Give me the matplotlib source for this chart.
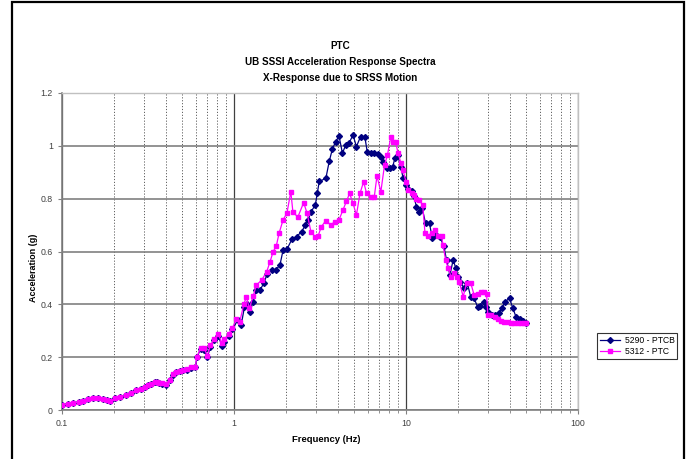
import matplotlib
matplotlib.use("Agg")
import matplotlib.pyplot as plt
from matplotlib.patches import Rectangle
from matplotlib.ticker import FixedLocator, NullFormatter

plt.rcParams['font.family'] = ['Liberation Sans', 'DejaVu Sans']

# Datos
freq_ptc = [0.100, 0.108, 0.116, 0.125, 0.133, 0.142, 0.151, 0.162, 0.173, 0.182,
            0.190, 0.203, 0.218, 0.237, 0.253, 0.271, 0.287, 0.303, 0.318, 0.331,
            0.345, 0.355, 0.367, 0.379, 0.401, 0.424, 0.443, 0.463, 0.484, 0.507,
            0.530, 0.566, 0.594, 0.610, 0.640, 0.670, 0.700, 0.730, 0.770, 0.810,
            0.850, 0.880, 0.930, 0.980, 1.03, 1.08, 1.14, 1.18, 1.23, 1.29,
            1.35, 1.45, 1.55, 1.62, 1.69, 1.76, 1.83, 1.93, 2.03, 2.14,
            2.20, 2.35, 2.54, 2.66, 2.80, 2.96, 3.08, 3.22, 3.42, 3.66,
            3.85, 4.08, 4.30, 4.50, 4.70, 4.92, 5.15, 5.40, 5.67, 5.90,
            6.25, 6.54, 6.78, 7.14, 7.50, 7.80, 8.15, 8.42, 8.70, 9.00,
            9.34, 9.60, 10.0, 10.3, 10.8, 11.2, 11.5, 11.9, 12.5, 12.9,
            13.4, 14.1, 14.7, 15.4, 16.1, 16.4, 17.0, 17.6, 18.3, 19.0,
            19.8, 20.4, 21.5, 22.5, 23.8, 24.9, 26.1, 27.3, 28.4, 29.4,
            29.9, 31.3, 32.7, 34.1, 35.7, 37.3, 39.0, 40.8, 42.6, 44.5,
            46.5, 48.5, 50.0]
acc_ptc = [0.019, 0.022, 0.025, 0.030, 0.035, 0.040, 0.044, 0.044, 0.042, 0.038,
           0.035, 0.044, 0.050, 0.057, 0.065, 0.076, 0.081, 0.086, 0.093, 0.099,
           0.107, 0.107, 0.104, 0.101, 0.099, 0.114, 0.136, 0.143, 0.148, 0.151,
           0.154, 0.162, 0.162, 0.202, 0.236, 0.234, 0.205, 0.246, 0.270, 0.288,
           0.253, 0.268, 0.288, 0.310, 0.344, 0.334, 0.400, 0.427, 0.385, 0.430,
           0.473, 0.492, 0.524, 0.561, 0.600, 0.620, 0.670, 0.720, 0.745, 0.826,
           0.750, 0.730, 0.785, 0.745, 0.675, 0.656, 0.658, 0.694, 0.717, 0.700,
           0.713, 0.720, 0.757, 0.790, 0.820, 0.782, 0.738, 0.820, 0.864, 0.820,
           0.807, 0.807, 0.886, 0.826, 0.927, 0.965, 1.032, 1.015, 1.015, 0.972,
           0.936, 0.908, 0.864, 0.833, 0.820, 0.815, 0.800, 0.795, 0.776, 0.669,
           0.660, 0.669, 0.681, 0.660, 0.660, 0.625, 0.568, 0.536, 0.505, 0.517,
           0.505, 0.486, 0.429, 0.480, 0.480, 0.435, 0.440, 0.448, 0.448, 0.440,
           0.360, 0.360, 0.353, 0.343, 0.338, 0.334, 0.332, 0.330, 0.328, 0.328,
           0.328, 0.328, 0.328]

freq_ptcb = [0.100, 0.108, 0.116, 0.125, 0.133, 0.142, 0.151, 0.162, 0.173, 0.182,
             0.190, 0.203, 0.218, 0.237, 0.253, 0.271, 0.287, 0.303, 0.318, 0.331,
             0.345, 0.355, 0.367, 0.379, 0.401, 0.424, 0.443, 0.463, 0.484, 0.507,
             0.530, 0.566, 0.594, 0.610, 0.640, 0.670, 0.700, 0.730, 0.770, 0.810,
             0.850, 0.880, 0.930, 0.980, 1.05, 1.10, 1.15, 1.19, 1.24, 1.29,
             1.35, 1.42, 1.49, 1.56, 1.66, 1.75, 1.85, 1.93, 2.03, 2.17,
             2.31, 2.47, 2.60, 2.70, 2.80, 2.97, 3.05, 3.13, 3.42, 3.58,
             3.73, 3.90, 4.08, 4.27, 4.46, 4.66, 4.92, 5.15, 5.44, 5.76,
             5.95, 6.25, 6.54, 6.86, 7.14, 7.37, 7.71, 8.07, 8.36, 8.62,
             8.93, 9.34, 9.60, 10.0, 10.3, 10.8, 11.1, 11.5, 11.9, 12.4,
             13.0, 13.7, 14.2, 15.0, 15.7, 16.6, 17.2, 18.0, 18.8, 19.5,
             20.1, 20.7, 21.7, 22.7, 23.8, 24.9, 26.1, 27.1, 28.4, 29.0,
             30.0, 31.6, 33.0, 34.5, 36.1, 37.7, 40.0, 41.8, 43.6, 45.9,
             47.9, 50.0]
acc_ptcb = [0.019, 0.022, 0.025, 0.030, 0.035, 0.040, 0.044, 0.044, 0.042, 0.038,
            0.035, 0.044, 0.050, 0.057, 0.065, 0.076, 0.081, 0.086, 0.093, 0.099,
            0.105, 0.106, 0.103, 0.099, 0.095, 0.112, 0.134, 0.142, 0.147, 0.150,
            0.153, 0.160, 0.161, 0.200, 0.232, 0.228, 0.200, 0.240, 0.265, 0.280,
            0.244, 0.258, 0.280, 0.305, 0.340, 0.320, 0.390, 0.400, 0.372, 0.410,
            0.454, 0.455, 0.480, 0.515, 0.530, 0.530, 0.549, 0.606, 0.608, 0.646,
            0.656, 0.675, 0.700, 0.720, 0.750, 0.776, 0.820, 0.865, 0.877, 0.942,
            0.987, 1.016, 1.037, 0.972, 1.003, 1.010, 1.041, 0.997, 1.035, 1.035,
            0.978, 0.972, 0.974, 0.970, 0.959, 0.940, 0.915, 0.915, 0.920, 0.953,
            0.966, 0.920, 0.880, 0.852, 0.835, 0.830, 0.810, 0.770, 0.750, 0.765,
            0.707, 0.707, 0.650, 0.662, 0.656, 0.620, 0.568, 0.511, 0.568, 0.536,
            0.505, 0.486, 0.461, 0.482, 0.427, 0.423, 0.389, 0.395, 0.410, 0.390,
            0.372, 0.360, 0.360, 0.366, 0.385, 0.410, 0.423, 0.385, 0.353, 0.343,
            0.338, 0.328]

titulo = "PTC\nUB SSSI Acceleration Response Spectra\nX-Response due to SRSS Motion"

fig = plt.figure(figsize=(6.89, 4.59), dpi=100)
ax = fig.add_axes([62/689, 1 - 410/459, (578-62)/689, (410-93)/459])

ax.plot(freq_ptcb, acc_ptcb, color='#000080', lw=0.9, marker='D', ms=3.0,
        label='5290 - PTCB', zorder=3)
ax.plot(freq_ptc, acc_ptc, color='#ff00ff', lw=0.9, marker='s', ms=3.2,
        label='5312 - PTC', zorder=4)

ax.set_xscale('log')
ax.set_xlim(0.1, 100)
ax.set_ylim(0, 1.2)
ax.set_yticks([0, 0.2, 0.4, 0.6, 0.8, 1.0, 1.2])
ax.set_yticklabels(['0', '0.2', '0.4', '0.6', '0.8', '1', '1.2'])
ax.set_xticks([0.1, 1, 10, 100])
ax.set_xticklabels(['0.1', '1', '10', '100'])
ax.xaxis.set_minor_locator(FixedLocator([m * d for d in (0.1, 1, 10) for m in range(2, 10)]))
ax.xaxis.set_minor_formatter(NullFormatter())

ax.tick_params(axis='both', which='major', labelsize=6.3, labelcolor='#404040',
               color='#808080', length=3, width=0.8, direction='out')
ax.tick_params(axis='x', which='minor', length=2, color='#808080', width=0.6)

ax.grid(True, axis='y', which='major', color='#808080', lw=1.2, zorder=0)
ax.grid(True, axis='x', which='major', color='#404040', lw=0.9, zorder=0)
ax.grid(True, axis='x', which='minor', color='#606060', lw=0.7,
        linestyle=(0, (1.2, 1.8)), zorder=0)

for lado in ['left', 'bottom']:
    ax.spines[lado].set_color('#808080')
    ax.spines[lado].set_linewidth(1.2)
for lado in ['top', 'right']:
    ax.spines[lado].set_color('#c0c0c0')
    ax.spines[lado].set_linewidth(1.0)

fig.text(340/689, 1 - 62/459, titulo, ha='center', va='center', fontsize=7.1,
         fontweight='bold', linespacing=1.72)
fig.text(326/689, 1 - 440/459, 'Frequency (Hz)', ha='center', va='center',
         fontsize=6.8, fontweight='bold')
fig.text(33/689, 1 - 268/459, 'Acceleration (g)', ha='center', va='center',
         fontsize=6.5, fontweight='bold', rotation=90)

leg = ax.legend(loc='center', bbox_to_anchor=(637/689, 1 - 346/459),
                bbox_transform=fig.transFigure, fontsize=6.2, frameon=True,
                fancybox=False, edgecolor='black', handlelength=2.4,
                borderpad=0.35, labelspacing=0.25, handletextpad=0.5)
leg.get_frame().set_linewidth(0.8)

# marco negro de la figura
fig.patches.append(Rectangle((12/689, -0.05), (684-12)/689, 1.05 - 2/459,
                             transform=fig.transFigure, fill=False,
                             edgecolor='black', lw=1.6))

fig.savefig('out.png', dpi=100)
